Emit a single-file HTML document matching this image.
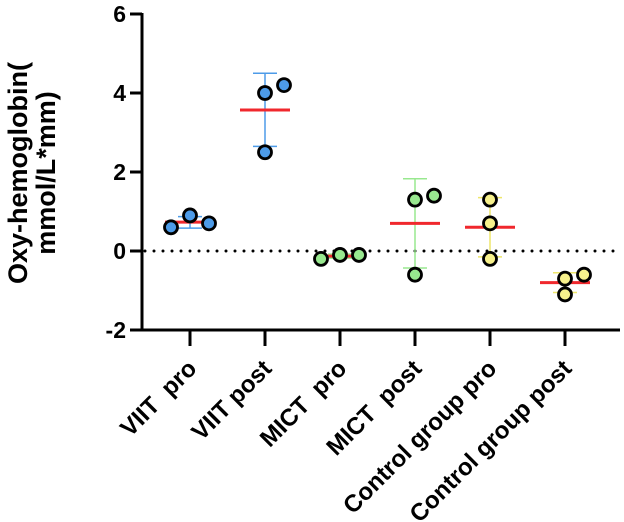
<!DOCTYPE html>
<html><head><meta charset="utf-8"><style>
html,body{margin:0;padding:0;background:#fff}
svg{display:block;font-family:"Liberation Sans",Arial,sans-serif;font-weight:bold}
</style></head><body>
<svg id="chart" width="624" height="522" viewBox="0 0 624 522" xmlns="http://www.w3.org/2000/svg"></svg>
<script>
const categories=["VIIT  pro","VIIT post","MICT  pro","MICT  post","Control group pro","Control group post"];
const pointValues=[[0.6,0.9,0.7],[4.0,4.2,2.5],[-0.2,-0.1,-0.1],[1.3,1.4,-0.6],[1.3,0.7,-0.2],[-0.7,-0.6,-1.1]];
const pointOffsets=[[-1,0,1],[0,1,0],[-1,0,1],[0,1,0],[0,0,0],[0,1,0]];
const means=[0.73,3.57,-0.13,0.7,0.6,-0.8];
const sdLow=[0.58,2.65,-0.18,-0.43,-0.15,-1.05];
const sdHigh=[0.87,4.5,-0.08,1.83,1.35,-0.55];
const yTicks=[-2,0,2,4,6];
const fills=["#4d9be8","#4d9be8","#98e88f","#98e88f","#f7f18c","#f7f18c"];
const errColors=["#4d9be8","#4d9be8","#98e88f","#98e88f","#eee66a","#eee66a"];

const svg=document.getElementById('chart');
const NS="http://www.w3.org/2000/svg";
const y=v=>251-v*39.5;
const x=i=>190+i*75;
function mk(tag,attrs,parent){const e=document.createElementNS(NS,tag);for(const k in attrs)e.setAttribute(k,attrs[k]);(parent||svg).appendChild(e);return e;}

let zl=mk('line',{x1:145,x2:620,y1:y(0),y2:y(0),stroke:'#000','stroke-width':3,'stroke-dasharray':'0 9','stroke-linecap':'round'});



let ya=mk('line',{x1:142,x2:142,y1:y(6)-1,y2:y(-2)+1.5,stroke:'#000','stroke-width':3});


let xa=mk('line',{x1:141,x2:620,y1:y(-2),y2:y(-2),stroke:'#000','stroke-width':3});



yTicks.forEach(t=>{
  let l=mk('line',{x1:130,x2:142,y1:y(t),y2:y(t),stroke:'#000','stroke-width':3});
  
  
  let tx=mk('text',{x:126,y:y(t)+8,'text-anchor':'end','font-size':23});
  tx.textContent=t;
  
  
});

categories.forEach((c,i)=>{
  let l=mk('line',{x1:x(i),x2:x(i),y1:y(-2),y2:y(-2)+16,stroke:'#000','stroke-width':3});
  
  
  let tx=mk('text',{x:0,y:0,'text-anchor':'end','font-size':24,transform:`translate(${x(i)+8},${y(-2)+40}) rotate(-45)`});
  tx.setAttribute('xml:space','preserve');
  tx.style.whiteSpace='pre';
  tx.textContent=c;
  
  
});

let tt=mk('text',{x:0,y:0,'text-anchor':'middle','font-size':27,transform:'translate(27,173) rotate(-90)'});


let s1=mk('tspan',{x:0,dy:0},tt);s1.textContent='Oxy-hemoglobin(';
let s2=mk('tspan',{x:0,dy:28},tt);s2.textContent='mmol/L*mm)';

categories.forEach((c,i)=>{
  const g=mk('g',{});
  
  
  const ec=errColors[i];
  mk('line',{x1:x(i),x2:x(i),y1:y(sdLow[i]),y2:y(sdHigh[i]),stroke:ec,'stroke-width':1.5},g);
  mk('line',{x1:x(i)-12,x2:x(i)+12,y1:y(sdLow[i]),y2:y(sdLow[i]),stroke:ec,'stroke-width':1.5},g);
  mk('line',{x1:x(i)-12,x2:x(i)+12,y1:y(sdHigh[i]),y2:y(sdHigh[i]),stroke:ec,'stroke-width':1.5},g);
  let m=mk('line',{x1:x(i)-25,x2:x(i)+25,y1:y(means[i]),y2:y(means[i]),stroke:'#f0282d','stroke-width':3},g);
  
  
  pointValues[i].forEach((v,j)=>{
    let p=mk('circle',{cx:x(i)+pointOffsets[i][j]*19,cy:y(v),r:6.5,fill:fills[i],stroke:'#000','stroke-width':2.8},g);
    
    
  });
});
</script>
</body></html>
